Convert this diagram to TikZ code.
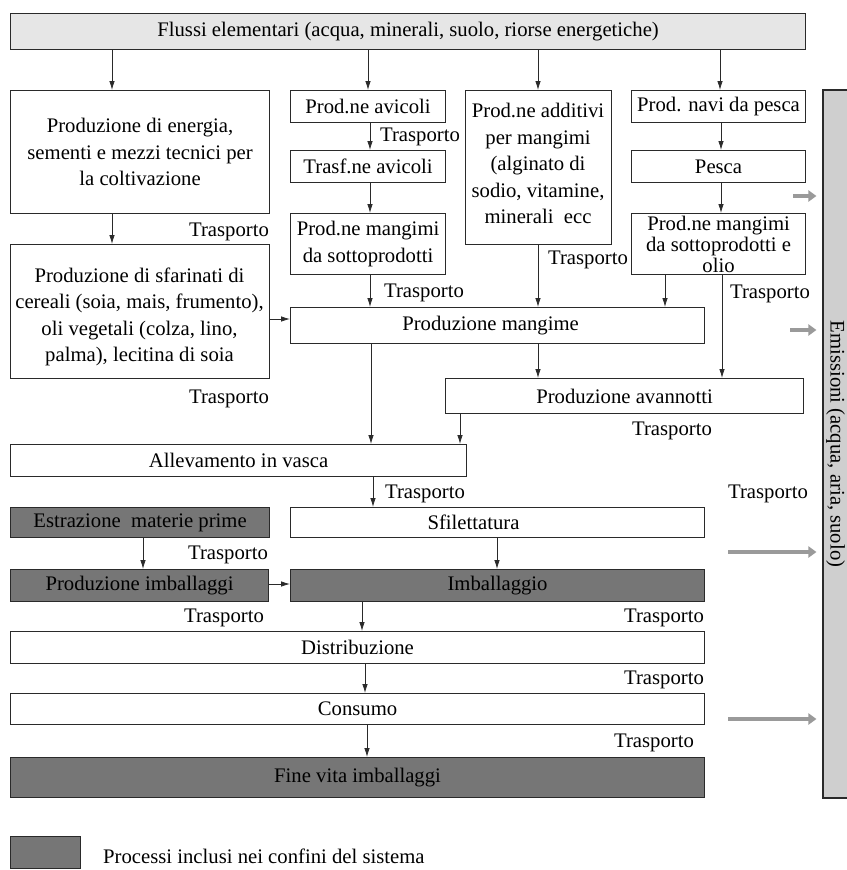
\documentclass[tikz,border=0pt]{standalone}
\usepackage{fontspec}
\setmainfont{Liberation Serif}
\usetikzlibrary{arrows.meta}
\definecolor{darkbox}{HTML}{767676}
\definecolor{lightbox}{HTML}{E6E6E6}
\definecolor{embox}{HTML}{CFCFCF}
\definecolor{edge}{HTML}{2A2A2A}
\definecolor{garrow}{HTML}{9A9A9A}
\begin{document}
\begin{tikzpicture}[x=1pt,y=-1pt,
  font=\fontsize{20.7}{26.5}\selectfont,
  box/.style={draw=edge, line width=1.1pt, anchor=north west, inner sep=2pt, align=center, fill=white},
  dark/.style={box, fill=darkbox},
  arr/.style={draw=edge, line width=0.8pt, -{Latex[length=9pt,width=5.5pt]}},
  garr/.style={draw=garrow, line width=3.5pt, -{Triangle[length=8pt,width=11pt]}, shorten >=6pt},
  lbl/.style={inner sep=0pt}]
\useasboundingbox (0,0) rectangle (846,870);
% boxes
\node[box, fill=lightbox, minimum width=795pt, minimum height=36pt] (top) at (10,13) {Flussi elementari (acqua, minerali, suolo, riorse energetiche)};
\node[box, minimum width=259pt, minimum height=123pt] (energia) at (10,90) {Produzione di energia,\\sementi e mezzi tecnici per\\la coltivazione};
\node[box, minimum width=155pt, minimum height=32pt] (avicoli) at (290,90) {Prod.ne avicoli};
\node[box, minimum width=155pt, minimum height=32pt] (trasf) at (290,150) {Trasf.ne avicoli};
\node[box, minimum width=155pt, minimum height=61pt] (mangsott) at (290,213) {Prod.ne mangimi\\da sottoprodotti};
\node[box, minimum width=146pt, minimum height=154pt] (additivi) at (465,90) {};
\node[lbl, anchor=north, align=center] (addtxt) at (538,103) {Prod.ne additivi\\per mangimi\\(alginato di\\sodio, vitamine,\\minerali\ \ ecc};
\node[box, minimum width=174pt, minimum height=32pt] (navi) at (631,90) {Prod. navi da pesca};
\node[box, minimum width=174pt, minimum height=32pt] (pesca) at (631,150) {Pesca};
\node[box, minimum width=174pt, minimum height=61pt, font=\fontsize{20.7}{21}\selectfont] (mangolio) at (631,213) {Prod.ne mangimi\\da sottoprodotti e\\olio};
\node[box, minimum width=259pt, minimum height=134pt] (sfarinati) at (10,244) {};
\node[lbl, align=center] (sfartxt) at (139.5,317) {Produzione di sfarinati di\\cereali (soia, mais, frumento),\\oli vegetali (colza, lino,\\palma), lecitina di soia};
\node[box, minimum width=414pt, minimum height=36pt] (mangime) at (290,307) {Produzione mangime\hspace*{14pt}};
\node[box, minimum width=358pt, minimum height=35pt] (avannotti) at (445,378) {Produzione avannotti};
\node[box, minimum width=456pt, minimum height=32pt] (allevamento) at (10,444) {Allevamento in vasca};
\node[dark, minimum width=259pt, minimum height=30pt] (estrazione) at (10,507) {Estrazione\ \ materie prime};
\node[box, minimum width=414pt, minimum height=30pt] (sfilettatura) at (290,507) {Sfilettatura\hspace*{48pt}};
\node[dark, minimum width=258pt, minimum height=32pt] (prodimb) at (10,569) {Produzione imballaggi};
\node[dark, minimum width=414pt, minimum height=32pt] (imballaggio) at (290,569) {Imballaggio};
\node[box, minimum width=694pt, minimum height=32pt] (distribuzione) at (10,631) {Distribuzione};
\node[box, minimum width=694pt, minimum height=31pt] (consumo) at (10,693) {Consumo};
\node[dark, minimum width=694pt, minimum height=40pt] (finevita) at (10,757) {Fine vita imballaggi};
\node[draw=edge, line width=1.1pt, fill=embox, rotate=-90, inner sep=0pt, minimum width=708pt, minimum height=25pt] (emissioni) at (835.5,444) {Emissioni (acqua, aria, suolo)};
% legend
\node[dark, minimum width=70pt, minimum height=32pt] (legsq) at (10,836) {};
\node[lbl, anchor=west] (legtxt) at (103,856) {Processi inclusi nei confini del sistema};
% arrows
\draw[arr] (112,0 |- top.south) -- (112,0 |- energia.north);
\draw[arr] (368,0 |- top.south) -- (368,0 |- avicoli.north);
\draw[arr] (538,0 |- top.south) -- (538,0 |- additivi.north);
\draw[arr] (720,0 |- top.south) -- (720,0 |- navi.north);
\draw[arr] (370,0 |- avicoli.south) -- (370,0 |- trasf.north);
\draw[arr] (370,0 |- trasf.south) -- (370,0 |- mangsott.north);
\draw[arr] (370,0 |- mangsott.south) -- (370,0 |- mangime.north);
\draw[arr] (721,0 |- navi.south) -- (721,0 |- pesca.north);
\draw[arr] (721,0 |- pesca.south) -- (721,0 |- mangolio.north);
\draw[arr] (665,0 |- mangolio.south) -- (665,0 |- mangime.north);
\draw[arr] (722,0 |- mangolio.south) -- (722,0 |- avannotti.north);
\draw[arr] (538,0 |- additivi.south) -- (538,0 |- mangime.north);
\draw[arr] (112,0 |- energia.south) -- (112,0 |- sfarinati.north);
\draw[arr] (sfarinati.east |- 0,319) -- (mangime.west |- 0,319);
\draw[arr] (371,0 |- mangime.south) -- (371,0 |- allevamento.north);
\draw[arr] (538,0 |- mangime.south) -- (538,0 |- avannotti.north);
\draw[arr] (460,0 |- avannotti.south) -- (460,0 |- allevamento.north);
\draw[arr] (373,0 |- allevamento.south) -- (373,0 |- sfilettatura.north);
\draw[arr] (143,0 |- estrazione.south) -- (143,0 |- prodimb.north);
\draw[arr] (497,0 |- sfilettatura.south) -- (497,0 |- imballaggio.north);
\draw[arr] (prodimb.east |- 0,584) -- (imballaggio.west |- 0,584);
\draw[arr] (362,0 |- imballaggio.south) -- (362,0 |- distribuzione.north);
\draw[arr] (365,0 |- distribuzione.south) -- (365,0 |- consumo.north);
\draw[arr] (367,0 |- consumo.south) -- (367,0 |- finevita.north);
% emission arrows
\coordinate (g1) at (793,196);
\coordinate (g2) at (790,330);
\coordinate (g3) at (728,552);
\coordinate (g4) at (728,719);
\draw[garr] (g1) -- (emissioni.south |- g1);
\draw[garr] (g2) -- (emissioni.south |- g2);
\draw[garr] (g3) -- (emissioni.south |- g3);
\draw[garr] (g4) -- (emissioni.south |- g4);
% transport labels
\node[lbl] (t1) at (420,137) {Trasporto};
\node[lbl] (t2) at (229,232) {Trasporto};
\node[lbl] (t3) at (588,260) {Trasporto};
\node[lbl] (t4) at (424,293) {Trasporto};
\node[lbl] (t5) at (770,294) {Trasporto};
\node[lbl] (t6) at (229,399) {Trasporto};
\node[lbl] (t7) at (672,431) {Trasporto};
\node[lbl] (t8) at (425,494) {Trasporto};
\node[lbl] (t9) at (768,494) {Trasporto};
\node[lbl] (t10) at (228,555) {Trasporto};
\node[lbl] (t11) at (224,618) {Trasporto};
\node[lbl] (t12) at (664,618) {Trasporto};
\node[lbl] (t13) at (664,680) {Trasporto};
\node[lbl] (t14) at (654,743) {Trasporto};
\end{tikzpicture}
\end{document}
